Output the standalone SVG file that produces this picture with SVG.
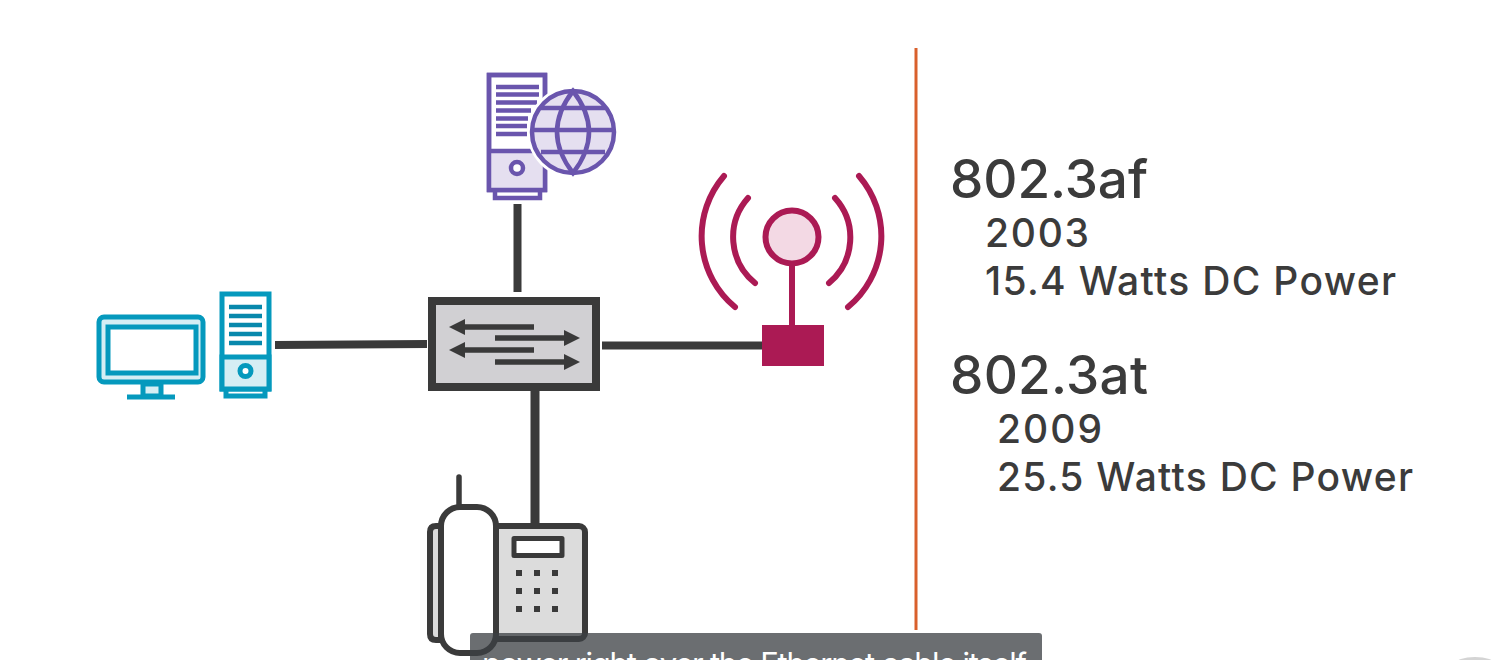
<svg xmlns="http://www.w3.org/2000/svg" width="1497" height="660" viewBox="0 0 1497 660">
<style>
text{font-family:"Inter","Open Sans","Liberation Sans",sans-serif;fill:#3b3b3b}
.h{font-size:53px;font-weight:500}
.b{font-size:39px;font-weight:500}
.p{stroke:#6a55ad;stroke-width:4.500}
.pl{stroke:#6a55ad;stroke-width:4.500;fill:none}
.t{stroke:#0599bd;stroke-width:5}
.tl{stroke:#0888ac;stroke-width:4.500;fill:none}
.m{stroke:#ab1a54;stroke-width:6;stroke-linecap:round}
.k{stroke:#3a3a3a;stroke-linejoin:round}
.d{fill:#3a3a3a}
</style>
<rect width="1497" height="660" fill="#ffffff"/>
<g id="connectors" fill="none" stroke="#3a3a3a">
<path stroke-width="8" d="M517.5 204V292"/>
<path stroke-width="8" d="M275 345L427 344"/>
<path stroke-width="8" d="M602 345.5H762"/>
<path stroke-width="9" d="M535 390V524"/>
</g>
<g id="server">
<rect x="489" y="75" width="56" height="115" fill="#ffffff" class="p"/>
<rect x="489" y="151" width="56" height="39" fill="#e5dff0"/>
<path class="p" fill="none" d="M489 151H545M489 75H545V190H489ZM495 190V198H540V190"/>
<circle cx="517" cy="168" r="6" fill="#ffffff" class="p"/>
<path class="pl" d="M496 87H539M496 94.500H539M496 102.500H537M496 110.500H531M496 118.500H528M496 126H527M496 134H527"/>
<circle cx="573" cy="132" r="46" fill="#ffffff"/>
<circle cx="573" cy="132" r="41" fill="#e5dff0" class="p"/>
<path class="p" fill="none" d="M573 91Q541 132 573 173Q605 132 573 91ZM532 130H614M541 108H605M541 152H605"/>
</g>
<g id="computer">
<rect x="99" y="317" width="104" height="65" rx="5" fill="#d5eef4" class="t"/>
<rect x="108" y="327" width="88" height="46" fill="#ffffff" class="t"/>
<rect x="143" y="384" width="18" height="12" fill="#d5eef4" class="t"/>
<path class="t" fill="none" d="M127 397H175"/>
<rect x="222" y="294" width="47" height="95" fill="#ffffff" class="t"/>
<rect x="222" y="357" width="47" height="32" fill="#d5eef4" class="t"/>
<path class="tl" d="M229 307H262M229 316H262M229 325H262M229 334H262M229 343H262"/>
<circle cx="245.500" cy="371" r="5.500" fill="#ffffff" class="t"/>
<path class="t" fill="none" d="M226 389V396H265V389"/>
</g>
<g id="switch">
<rect x="432" y="301" width="164" height="86" fill="#d1d0d3" stroke="#3a3a3a" stroke-width="8"/>
<path fill="none" stroke="#3a3a3a" stroke-width="5.500" d="M534 327H462M495 338H567M534 350H462M495 362H567"/>
<path class="d" d="M449 327L465 319V335ZM580 338L564 330V346ZM449 350L465 342V358ZM580 362L564 354V370Z"/>
</g>
<g id="access-point">
<circle cx="792" cy="237" r="26.500" fill="#f3d9e4" class="m"/>
<path class="m" fill="none" d="M792 265V326"/>
<rect x="762" y="325" width="62" height="41" fill="#ab1a54"/>
<path class="m" fill="none" d="M724 176A92 92 0 0 0 735 307M748 198A59 59 0 0 0 755 283M859 176A92 92 0 0 1 848 307M835 198A59 59 0 0 1 829 283"/>
</g>
<g id="phone">
<path class="k" stroke-width="6" fill="#dcdcdc" d="M441 526H436Q430 526 430 532V634Q430 640 436 640H441Z"/>
<rect x="490" y="526" width="95" height="113" rx="6" fill="#dcdcdc" class="k" stroke-width="6"/>
<rect x="441" y="507" width="55" height="146" rx="19" fill="#ffffff" class="k" stroke-width="6"/>
<path class="k" stroke-width="5.500" stroke-linecap="round" fill="none" d="M459 477V506"/>
<rect x="514" y="538.500" width="48" height="17" fill="#ffffff" class="k" stroke-width="5"/>
<path class="d" d="M516 570h6v6h-6zM534 570h6v6h-6zM552 570h6v6h-6zM516 588h6v6h-6zM534 588h6v6h-6zM552 588h6v6h-6zM516 606h6v6h-6zM534 606h6v6h-6zM552 606h6v6h-6z"/>
</g>
<path d="M916 48V630" stroke="#d9602c" stroke-width="3" fill="none"/>
<text class="h" x="950" y="198" textLength="198">802.3af</text>
<text class="b" x="985" y="247" textLength="104">2003</text>
<text class="b" x="985" y="295" textLength="411">15.4 Watts DC Power</text>
<text class="h" x="950" y="394" textLength="198">802.3at</text>
<text class="b" x="997" y="443" textLength="105">2009</text>
<text class="b" x="997" y="491" textLength="416">25.5 Watts DC Power</text>
<ellipse cx="1475" cy="664" rx="20" ry="7" fill="#d4d4d4"/>
<rect x="470" y="633" width="572" height="40" rx="3" fill="#3c4043" fill-opacity="0.755"/>
<text x="482" y="675" textLength="545" style="font-size:31px;fill:#ffffff">power right over the Ethernet cable itself</text>
</svg>
